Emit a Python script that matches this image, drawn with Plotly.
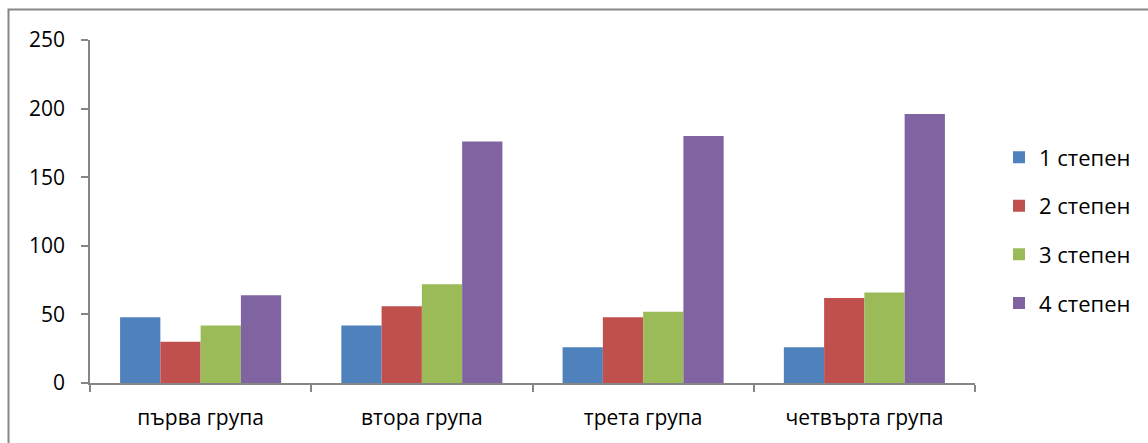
import plotly.graph_objects as go

# Data
categories = ["първа група", "втора група", "трета група", "четвърта група"]
series_names = ["1 степен", "2 степен", "3 степен", "4 степен"]
stepen_1 = [48, 42, 26, 26]
stepen_2 = [30, 56, 48, 62]
stepen_3 = [42, 72, 52, 66]
stepen_4 = [64, 176, 180, 196]
y_ticks = [0, 50, 100, 150, 200, 250]

colors = ["#4F81BD", "#C0504D", "#9BBB59", "#8064A2"]
all_series = [stepen_1, stepen_2, stepen_3, stepen_4]

W, H = 1148, 443
L, R, T, B = 90, 173, 40, 60
pw, ph = W - L - R, H - T - B

font_family = "Open Sans"

fig = go.Figure()
for name, vals, col in zip(series_names, all_series, colors):
    fig.add_trace(go.Bar(
        x=categories, y=vals, name=name, legendgroup=name,
        marker=dict(color=col, line=dict(width=0)),
    ))

axis_col = "#868686"

# outer chart frame
def px_x(p):
    return (p - L) / pw

def px_y(p):
    return (H - B - p) / ph

fig.add_shape(type="rect", xref="paper", yref="paper",
              x0=px_x(8.5), x1=px_x(1170), y0=px_y(9.5), y1=px_y(470),
              line=dict(color=axis_col, width=2), fillcolor="rgba(0,0,0,0)",
              layer="below")

fig.update_layout(
    width=W, height=H,
    margin=dict(l=L, r=R, t=T, b=B, pad=0),
    paper_bgcolor="white", plot_bgcolor="white",
    barmode="group", bargap=0.272, bargroupgap=0,
    font=dict(family=font_family, size=20, color="#000000"),
    showlegend=True,
    legend=dict(x=px_x(999), xanchor="left", y=0.445, yanchor="middle",
                tracegroupgap=17, font=dict(size=22),
                bgcolor="rgba(0,0,0,0)"),
    xaxis=dict(
        type="category", showline=True, linecolor=axis_col, linewidth=1.5,
        ticks="outside", tickson="boundaries", ticklen=7, tickcolor=axis_col,
        tickwidth=1.5, showgrid=False, zeroline=False,
        tickfont=dict(size=21), ticklabelstandoff=15,
    ),
    yaxis=dict(
        range=[0, 250], tickvals=y_ticks, showline=True, linecolor=axis_col,
        linewidth=1.5, ticks="outside", ticklen=7, tickcolor=axis_col,
        tickwidth=1.5, showgrid=False, zeroline=False,
        tickfont=dict(size=21), ticklabelstandoff=12,
    ),
)

fig.write_html("out.html")
